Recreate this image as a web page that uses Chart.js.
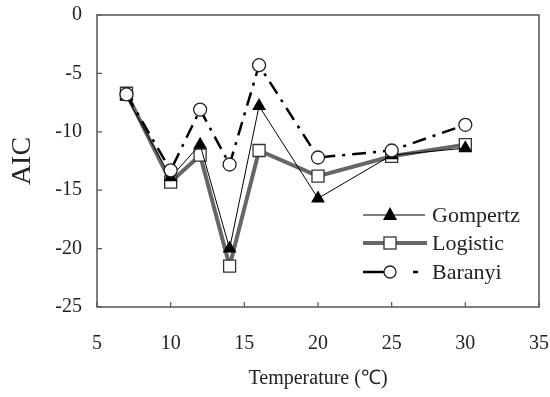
<!DOCTYPE html>
<html><head><meta charset="utf-8">
<script src="https://cdn.jsdelivr.net/npm/chart.js@4/dist/chart.umd.min.js"></script>
<style>html,body{margin:0;padding:0;background:#fff}#w{width:550px;height:397px}</style>
</head><body><div id="w"><canvas id="c" width="550" height="397"></canvas></div>
<script>
const temperatures = [7, 10, 12, 14, 16, 20, 25, 30];
const gompertz = [-7.0, -13.9, -11.1, -20.0, -7.8, -15.7, -12.0, -11.4];
const logistic = [-6.7, -14.3, -12.0, -21.5, -11.6, -13.8, -12.1, -11.1];
const baranyi  = [-6.8, -13.3, -8.1, -12.8, -4.3, -12.2, -11.6, -9.4];
const xTicks = [5, 10, 15, 20, 25, 30, 35];
const yTicks = [0, -5, -10, -15, -20, -25];
const seriesNames = ['Gompertz', 'Logistic', 'Baranyi'];

const FONT = "'Liberation Serif', 'Times New Roman', serif";
const pts = a => temperatures.map((t, i) => ({x: t, y: a[i]}));

const framePlugin = {
  id: 'frame',
  beforeDatasetsDraw(chart) {
    const {ctx, chartArea: a, scales} = chart;
    ctx.save();
    ctx.strokeStyle = '#555';
    ctx.lineWidth = 1.5;
    ctx.strokeRect(a.left, a.top, a.right - a.left, a.bottom - a.top);
    ctx.lineWidth = 1.2;
    ctx.beginPath();
    xTicks.forEach(v => {
      const x = scales.x.getPixelForValue(v);
      ctx.moveTo(x, a.bottom); ctx.lineTo(x, a.bottom - 5);
    });
    yTicks.forEach(v => {
      const y = scales.y.getPixelForValue(v);
      ctx.moveTo(a.left, y); ctx.lineTo(a.left + 5, y);
    });
    ctx.stroke();
    ctx.restore();
  },
  afterDraw(chart) {
    const ctx = chart.ctx;
    const lx0 = 363, lx1 = 425, mx = 390, tx = 432;
    const rows = [215, 243, 272];
    ctx.save();
    ctx.font = "22px " + FONT;
    ctx.textBaseline = 'middle';
    // Gompertz
    ctx.strokeStyle = '#000'; ctx.lineWidth = 1;
    ctx.beginPath(); ctx.moveTo(lx0, rows[0]); ctx.lineTo(lx1, rows[0]); ctx.stroke();
    ctx.fillStyle = '#000';
    ctx.beginPath(); ctx.moveTo(mx, rows[0] - 8); ctx.lineTo(mx + 7, rows[0] + 5); ctx.lineTo(mx - 7, rows[0] + 5); ctx.closePath(); ctx.fill();
    // Logistic
    ctx.strokeStyle = '#666'; ctx.lineWidth = 4;
    ctx.beginPath(); ctx.moveTo(lx0, rows[1]); ctx.lineTo(lx1 + 2, rows[1]); ctx.stroke();
    ctx.fillStyle = '#fff'; ctx.strokeStyle = '#333'; ctx.lineWidth = 1.3;
    ctx.fillRect(mx - 6, rows[1] - 6, 12, 12); ctx.strokeRect(mx - 6, rows[1] - 6, 12, 12);
    // Baranyi
    ctx.strokeStyle = '#000'; ctx.lineWidth = 2.5;
    ctx.beginPath(); ctx.moveTo(lx0, rows[2]); ctx.lineTo(mx - 6, rows[2]); ctx.moveTo(413, rows[2]); ctx.lineTo(418, rows[2]); ctx.stroke();
    ctx.fillStyle = '#fff'; ctx.lineWidth = 1.3; ctx.strokeStyle = '#222';
    ctx.beginPath(); ctx.arc(mx, rows[2], 6, 0, Math.PI * 2); ctx.fill(); ctx.stroke();
    ctx.fillStyle = '#222';
    ctx.fillText(seriesNames[0], tx, rows[0] + 1);
    ctx.fillText(seriesNames[1], tx, rows[1] + 1);
    ctx.fillText(seriesNames[2], tx, rows[2] + 1);
    ctx.restore();
  }
};

new Chart(document.getElementById('c'), {
  type: 'scatter',
  data: {
    datasets: [
      {label: seriesNames[1], data: pts(logistic), showLine: true, borderColor: '#666', borderWidth: 4,
       pointStyle: 'rect', pointRadius: 8.5, pointBackgroundColor: '#fff', pointBorderColor: '#333', pointBorderWidth: 1.3, order: 2},
      {label: seriesNames[0], data: pts(gompertz), showLine: true, borderColor: '#000', borderWidth: 1,
       pointStyle: 'triangle', pointRadius: 8, pointBackgroundColor: '#000', pointBorderColor: '#000', pointBorderWidth: 0, order: 1},
      {label: seriesNames[2], data: pts(baranyi), showLine: true, borderColor: '#000', borderWidth: 2.5, borderDash: [14, 7, 3, 7],
       pointStyle: 'circle', pointRadius: 6.5, pointBackgroundColor: '#fff', pointBorderColor: '#222', pointBorderWidth: 1.3, order: 0}
    ]
  },
  options: {
    responsive: false,
    animation: false,
    layout: {padding: {top: 15, right: 11, left: 0, bottom: 0}},
    plugins: {legend: {display: false}, tooltip: {enabled: false}},
    scales: {
      x: {
        type: 'linear', min: 5, max: 35,
        afterBuildTicks: s => { s.ticks = xTicks.map(v => ({value: v})); },
        afterFit: s => { s.height = 90; s.paddingLeft = 0; s.paddingRight = 0; },
        grid: {display: false, drawTicks: false},
        border: {display: false},
        ticks: {padding: 25, color: '#222', font: {family: FONT, size: 20}},
        title: {display: true, text: 'Temperature (℃)', color: '#222', font: {family: FONT, size: 20}, padding: {top: 6, bottom: 6}}
      },
      y: {
        type: 'linear', min: -25, max: 0,
        afterBuildTicks: s => { s.ticks = yTicks.map(v => ({value: v})); },
        afterFit: s => { s.width = 97; s.paddingTop = 0; s.paddingBottom = 0; },
        grid: {display: false, drawTicks: false},
        border: {display: false},
        ticks: {padding: 15, color: '#222', font: {family: FONT, size: 20}},
        title: {display: true, text: 'AIC', color: '#222', font: {family: FONT, size: 28}, padding: {top: 6, bottom: 0}}
      }
    }
  },
  plugins: [framePlugin]
});
</script></body></html>
